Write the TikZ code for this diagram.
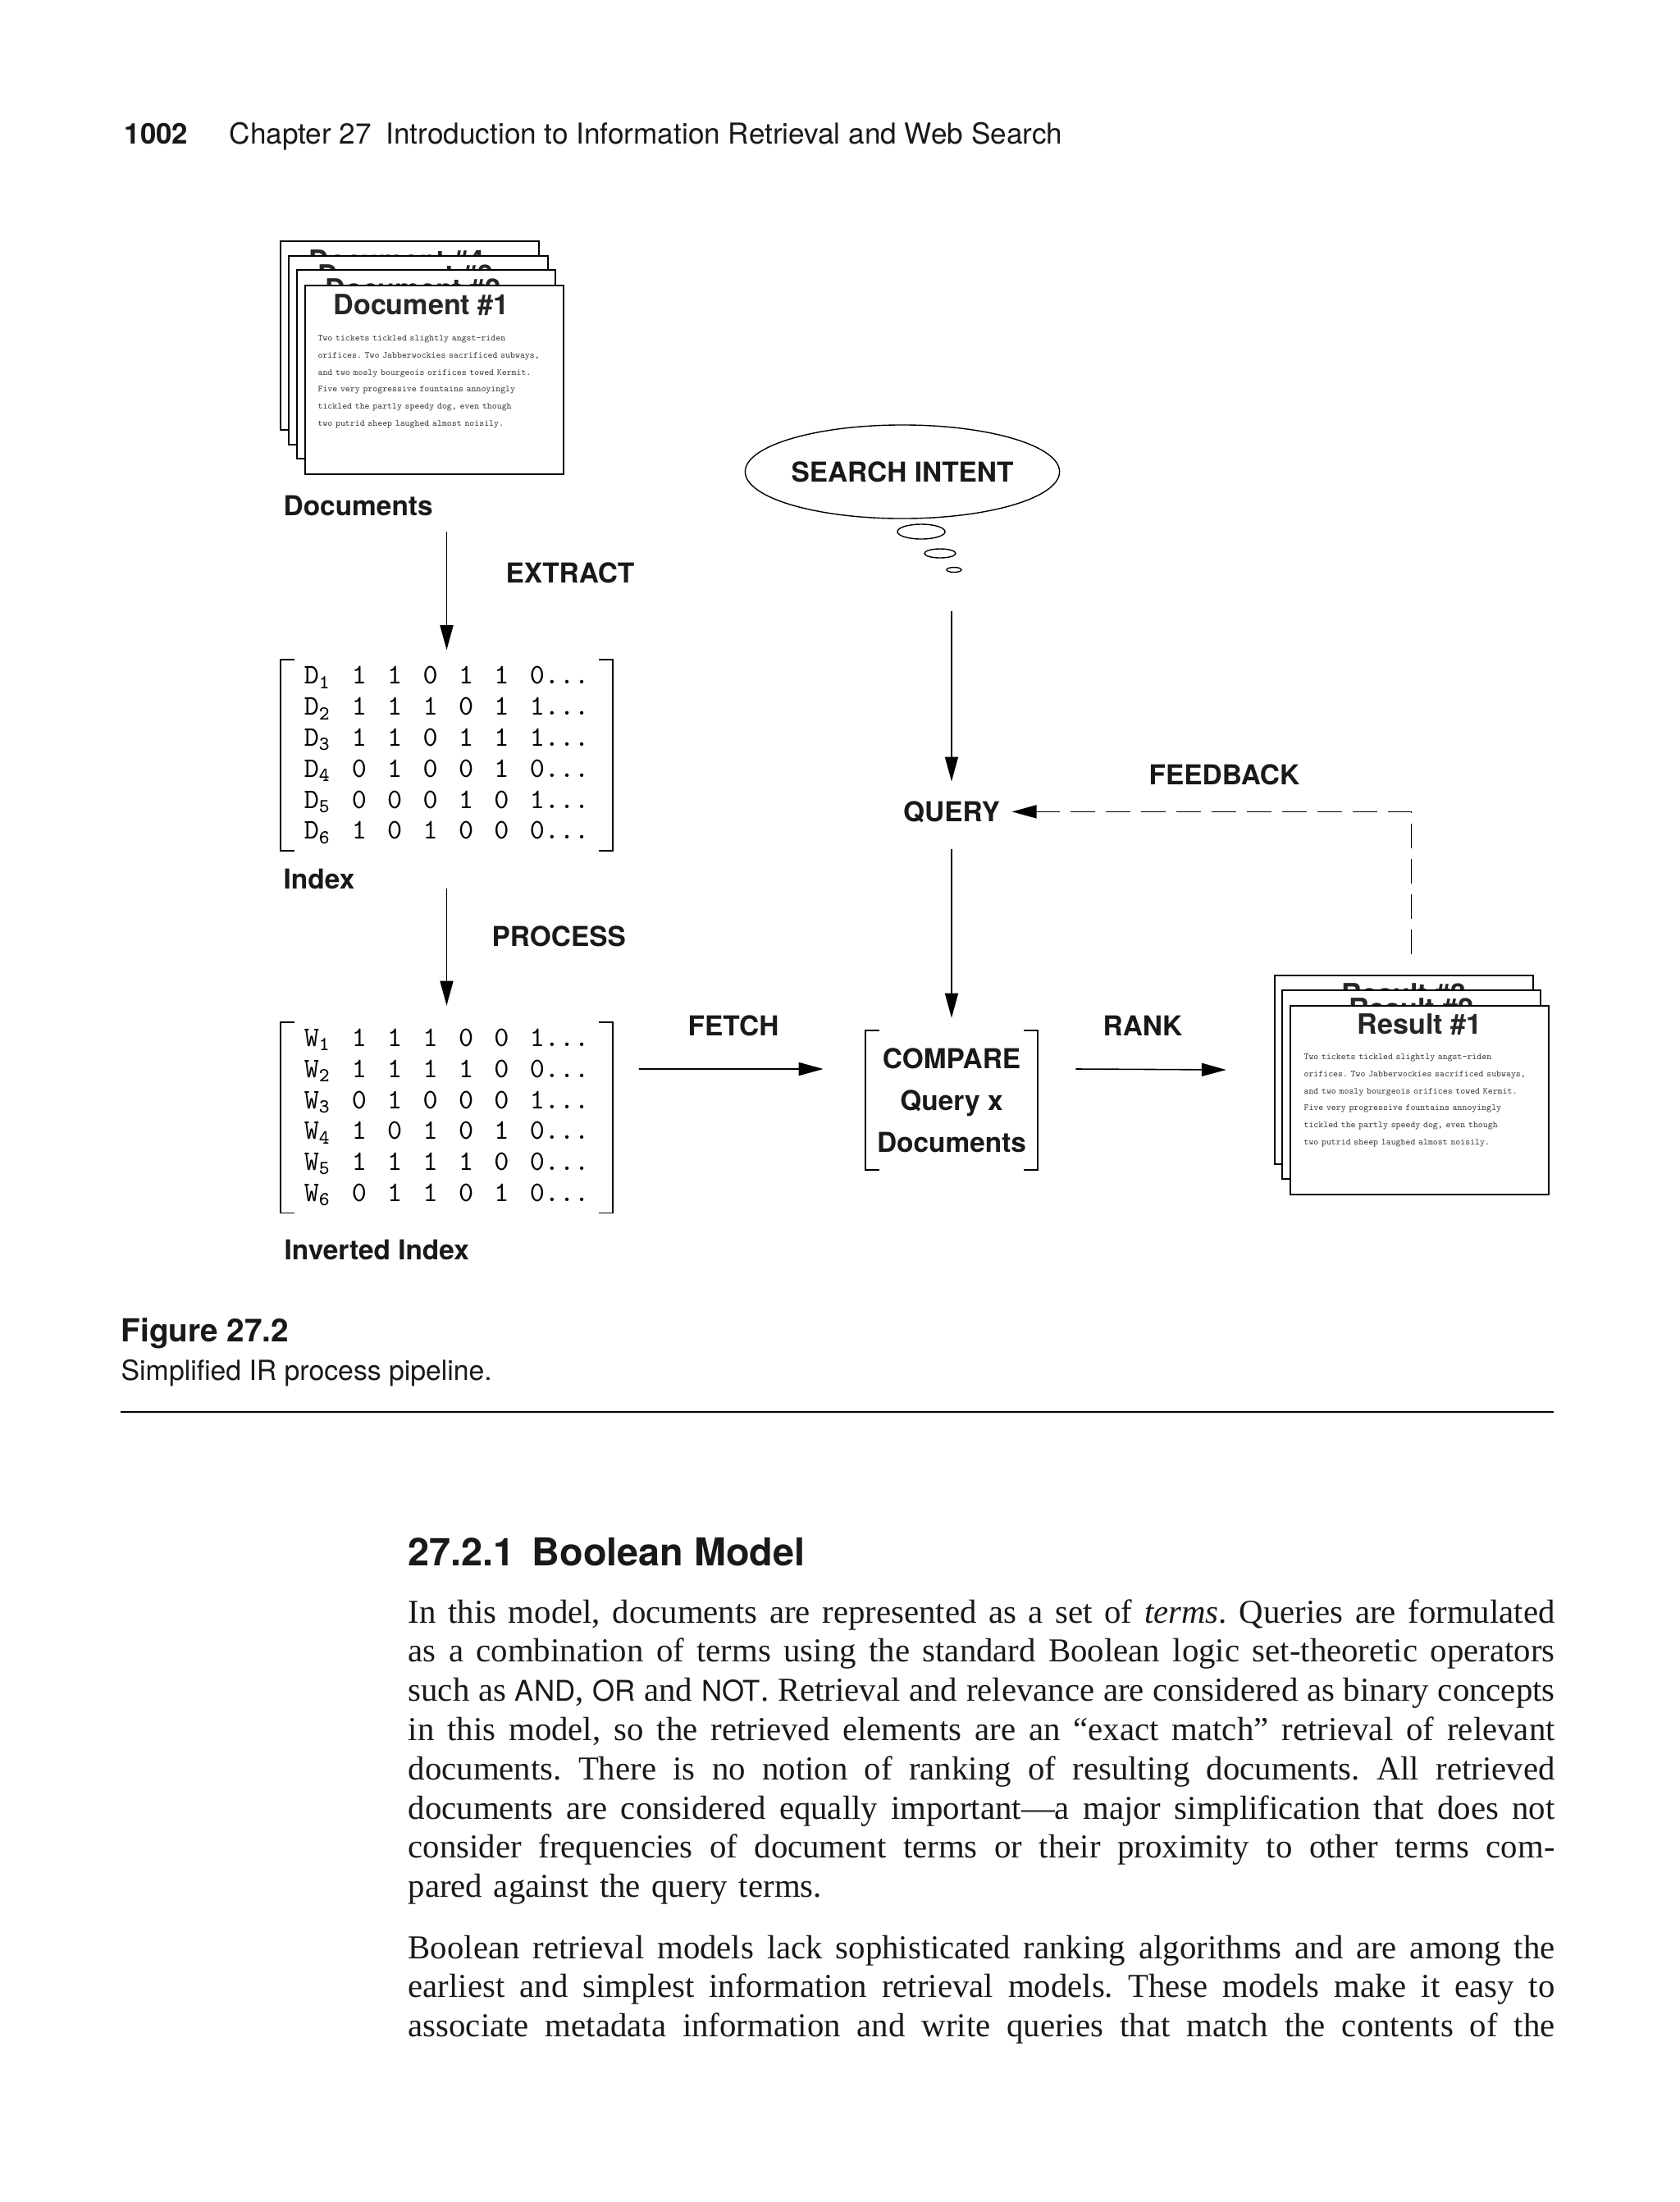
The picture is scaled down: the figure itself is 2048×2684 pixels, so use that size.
\documentclass[tikz,border=0pt]{standalone}
\usepackage{fontspec}
\setmainfont{Liberation Serif}
\setsansfont{TeX Gyre Heros}
\setmonofont{Latin Modern Mono}
\usepackage{tikz}
\usetikzlibrary{arrows.meta,positioning,shapes.geometric,calc}
\frenchspacing
\newcommand{\boolop}[1]{{\sffamily\fontsize{9.9}{13.6}\selectfont #1}}
\newcommand{\fullline}[1]{\makebox[13.97cm][s]{\spaceskip=0pt\xspaceskip=0pt #1}}
\newcommand{\rowtag}[2]{\makebox[0.58cm][l]{#1\textsubscript{#2}}}
\newcommand{\bits}[1]{{\spaceskip=7.2pt\relax #1}}
\tikzset{
  card/.style={rectangle, draw=black, line width=0.6pt, fill=white,
    minimum width=3.15cm, minimum height=2.3cm, inner sep=0pt},
  cardtitle/.style={font=\sffamily\bfseries\fontsize{9.7}{11}\selectfont,
    inner sep=0pt, text=black!85},
  cardtext/.style={font=\ttfamily\fontsize{3.18}{5.87}\selectfont, text width=2.95cm,
    align=left, inner sep=0pt, text=black!75},
  lbl/.style={font=\sffamily\bfseries\fontsize{9.5}{11}\selectfont, inner sep=0pt, text=black!90},
  mat/.style={rectangle, minimum width=4.03cm, minimum height=2.31cm, inner sep=0pt,
    align=left, font=\ttfamily\fontsize{9.8}{10.75}\selectfont, text=black},
  brk/.style={draw=black, line width=0.45pt},
  arr/.style={-{Triangle[length=0.3cm,width=0.16cm]}, draw=black, line width=0.45pt},
  fb/.style={arr, dash pattern=on 0.3cm off 0.13cm},
  bubble/.style={ellipse, draw=black, line width=0.4pt, inner sep=0pt},
  head/.style={anchor=base west, inner sep=0pt, text=black!90},
  body/.style={anchor=base west, inner sep=0pt, text width=13.97cm, align=left,
    font=\rmfamily\fontsize{11.6}{13.6}\selectfont, text=black!90},
}

\begin{document}
\begin{tikzpicture}[x=0.01cm, y=-0.01cm]
  \path[fill=white, use as bounding box] (0,0) rectangle (2048,2684);

  \node[head, font=\sffamily\bfseries\fontsize{9.9}{12}\selectfont] (pagenum) at (151,175) {1002};
  \node[head, font=\sffamily\fontsize{10}{12}\selectfont] (runhead) at (279,175)
    {Chapter 27\enspace Introduction to Information Retrieval and Web Search};

  \node[card] (doc4) at (499.5,409) {};
  \node[cardtitle, anchor=base west] (doc4t) at ($(doc4.north west)+(35,37)$) {Document \#4};
  \node[card] (doc3) at (510,427) {};
  \node[cardtitle, anchor=base west] (doc3t) at ($(doc3.north west)+(35,37)$) {Document \#3};
  \node[card] (doc2) at (519.5,444) {};
  \node[cardtitle, anchor=base west] (doc2t) at ($(doc2.north west)+(35,37)$) {Document \#2};
  \node[card] (doc1) at (529.5,463) {};
  \node[cardtitle, anchor=base west] (doc1t) at ($(doc1.north west)+(35,37)$) {Document \#1};
  \node[cardtext, anchor=base west] (doc1x) at ($(doc1.north west)+(16,69)$)
    {Two tickets tickled slightly angst-riden\\
     orifices. Two Jabberwockies sacrificed subways,\\
     and two mosly bourgeois orifices towed Kermit.\\
     Five very progressive fountains annoyingly\\
     tickled the partly speedy dog, even though\\
     two putrid sheep laughed almost noisily.};
  \node[lbl, anchor=base west] (doclbl) at (345,628) {Documents};
  \node[lbl, anchor=base west] (extract) at (616,710) {EXTRACT};

  \node[mat] (idx) at (544.5,920.5)
    {\rowtag{D}{1}\bits{1 1 0 1 1 0...}\\
     \rowtag{D}{2}\bits{1 1 1 0 1 1...}\\
     \rowtag{D}{3}\bits{1 1 0 1 1 1...}\\
     \rowtag{D}{4}\bits{0 1 0 0 1 0...}\\
     \rowtag{D}{5}\bits{0 0 0 1 0 1...}\\
     \rowtag{D}{6}\bits{1 0 1 0 0 0...}};
  \node[lbl, anchor=base west] (idxlbl) at (345,1083) {Index};
  \node[lbl, anchor=base west] (process) at (599,1153) {PROCESS};

  \node[mat] (inv) at (544.5,1362)
    {\rowtag{W}{1}\bits{1 1 1 0 0 1...}\\
     \rowtag{W}{2}\bits{1 1 1 1 0 0...}\\
     \rowtag{W}{3}\bits{0 1 0 0 0 1...}\\
     \rowtag{W}{4}\bits{1 0 1 0 1 0...}\\
     \rowtag{W}{5}\bits{1 1 1 1 0 0...}\\
     \rowtag{W}{6}\bits{0 1 1 0 1 0...}};
  \node[lbl, anchor=base west] (invlbl) at (346,1535) {Inverted Index};

  \node[bubble, lbl, minimum width=3.73cm, minimum height=1.14cm] (intent) at (1100,575) {SEARCH INTENT};
  \node[bubble, minimum width=0.58cm, minimum height=0.18cm] (puff1) at (1123,648) {};
  \node[bubble, minimum width=0.38cm, minimum height=0.11cm] (puff2) at (1146,674.5) {};
  \node[bubble, minimum width=0.18cm, minimum height=0.06cm] (puff3) at (1163,694.5) {};
  \coordinate (think) at (1160,745);

  \node[lbl, anchor=base, inner xsep=0.14cm, inner ysep=0.23cm] (query) at (1160,1001) {QUERY};
  \node[lbl, anchor=base west] (feedback) at (1400,956) {FEEDBACK};
  \node[lbl, anchor=base west] (fetch) at (838,1262) {FETCH};
  \node[lbl, anchor=base west] (rank) at (1344,1262) {RANK};
  \node[lbl, align=center, font=\sffamily\bfseries\fontsize{9.5}{14.5}\selectfont,
    minimum width=2.09cm, minimum height=1.69cm] (cmp) at (1160,1341)
    {COMPARE\\Query x\\Documents};

  \node[card] (res3) at (1711.5,1304) {};
  \node[cardtitle, anchor=base] (res3t) at ($(res3.north)+(0,36)$) {Result \#3};
  \node[card] (res2) at (1720.5,1322) {};
  \node[cardtitle, anchor=base] (res2t) at ($(res2.north)+(0,36)$) {Result \#2};
  \node[card] (res1) at (1730.5,1341) {};
  \node[cardtitle, anchor=base] (res1t) at ($(res1.north)+(0,36)$) {Result \#1};
  \node[cardtext, anchor=base west] (res1x) at ($(res1.north west)+(17,67)$)
    {Two tickets tickled slightly angst-riden\\
     orifices. Two Jabberwockies sacrificed subways,\\
     and two mosly bourgeois orifices towed Kermit.\\
     Five very progressive fountains annoyingly\\
     tickled the partly speedy dog, even though\\
     two putrid sheep laughed almost noisily.};

  \draw[brk] ([xshift=0.17cm]idx.north west) -- (idx.north west) -- (idx.south west) -- ++(17,0);
  \draw[brk] ([xshift=-0.17cm]idx.north east) -- (idx.north east) -- (idx.south east) -- ++(-17,0);
  \draw[brk] ([xshift=0.17cm]inv.north west) -- (inv.north west) -- (inv.south west) -- ++(17,0);
  \draw[brk] ([xshift=-0.17cm]inv.north east) -- (inv.north east) -- (inv.south east) -- ++(-17,0);
  \draw[brk] ([xshift=0.17cm]cmp.north west) -- (cmp.north west) -- (cmp.south west) -- ++(17,0);
  \draw[brk] ([xshift=-0.17cm]cmp.north east) -- (cmp.north east) -- (cmp.south east) -- ++(-17,0);

  \draw[arr, shorten <=0.2cm, shorten >=0.12cm] (idx.north |- doclbl.base) -- (idx.north);
  \draw[arr, shorten >=0.2cm] (inv.north |- idxlbl.base) -- (inv.north);
  \draw[arr] ([xshift=0.32cm,yshift=0.59cm]inv.east) -- ([xshift=-0.51cm,yshift=0.38cm]cmp.west);
  \draw[arr] ([xshift=0.46cm,yshift=0.38cm]cmp.east) -- ([xshift=-0.58cm]res3.west);
  \draw[arr] (think) -- (query);
  \draw[arr, shorten <=0.09cm, shorten >=0.15cm] (query) -- (cmp);
  \draw[fb, shorten <=0.43cm] (res2.north) |- (query);

  \node[head, font=\sffamily\bfseries\fontsize{11}{13}\selectfont] (figno) at (147,1635) {Figure 27.2};
  \node[head, font=\sffamily\fontsize{9.6}{12}\selectfont] (figcap) at (147,1682) {Simplified IR process pipeline.};
  \draw[line width=0.6pt] (147,1721) -- (1894,1721);

  \node[head, font=\sffamily\bfseries\fontsize{13.3}{16}\selectfont] (sect) at (497,1908)
    {27.2.1\hspace{0.45em}Boolean Model};
  \node[body] (para1) at (497,1978)
    {\fullline{In this model, documents are represented as a set of \emph{terms}. Queries are formulated}\\
     \fullline{as a combination of terms using the standard Boolean logic set-theoretic operators}\\
     \fullline{such as \boolop{AND}, \boolop{OR} and \boolop{NOT}. Retrieval and relevance are considered as binary concepts}\\
     \fullline{in this model, so the retrieved elements are an “exact match” retrieval of relevant}\\
     \fullline{documents. There is no notion of ranking of resulting documents. All retrieved}\\
     \fullline{documents are considered equally important—a major simplification that does not}\\
     \fullline{consider frequencies of document terms or their proximity to other terms com-}\\
     pared against the query terms.};
  \node[body] (para2) at (497,2387)
    {\fullline{Boolean retrieval models lack sophisticated ranking algorithms and are among the}\\
     \fullline{earliest and simplest information retrieval models. These models make it easy to}\\
     \fullline{associate metadata information and write queries that match the contents of the}};
\end{tikzpicture}
\end{document}
